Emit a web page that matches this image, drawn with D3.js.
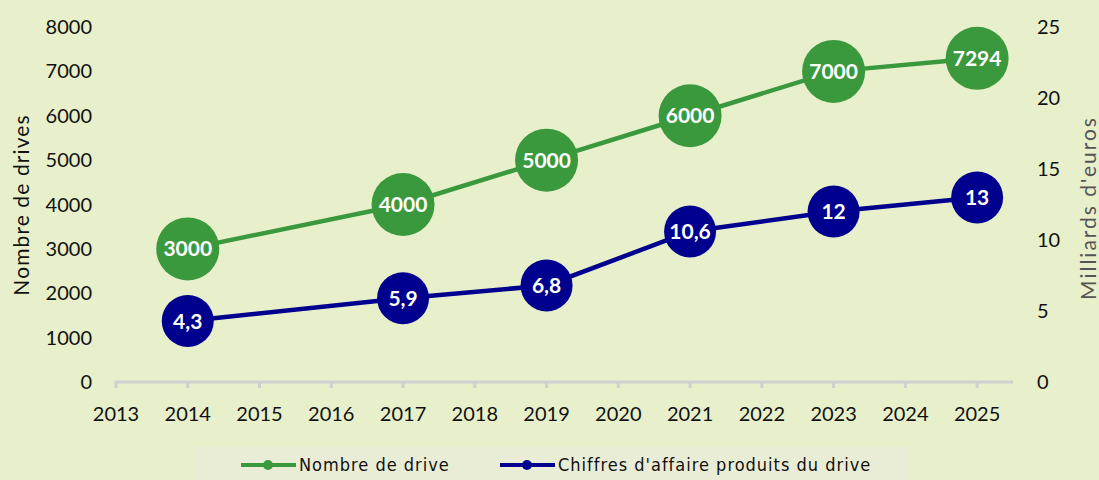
<!DOCTYPE html>
<html>
<head>
<meta charset="utf-8">
<script src="https://cdn.jsdelivr.net/npm/d3@7"></script>
<style>
  body { margin: 0; background: #e8efcb; }
  svg { display: block; }
</style>
</head>
<body>
<svg id="chart" width="1099" height="480"></svg>
<script>
// data
var years = [2014, 2017, 2019, 2021, 2023, 2025];
var drives = [3000, 4000, 5000, 6000, 7000, 7294];
var ca = [4.3, 5.9, 6.8, 10.6, 12, 13];
var caLabels = ["4,3", "5,9", "6,8", "10,6", "12", "13"];
var xTicks = d3.range(2013, 2026);
var leftTicks = [0, 1000, 2000, 3000, 4000, 5000, 6000, 7000, 8000];
var rightTicks = [0, 5, 10, 15, 20, 25];
var seriesNames = ["Nombre de drive", "Chiffres d'affaire produits du drive"];

var green = "#3a993d", navy = "#00008e";
var font = "Lato, 'Noto Sans', sans-serif";

var svg = d3.select("#chart");

var x = d3.scaleLinear().domain([2013, 2025.5]).range([116, 1013]);
var yL = d3.scaleLinear().domain([0, 8000]).range([382, 27]);
var yR = d3.scaleLinear().domain([0, 25]).range([382, 27]);

// x axis
var xAxis = svg.append("g").attr("transform", "translate(0,382)");
xAxis.append("line")
    .attr("x1", x.range()[0] - 1.5).attr("x2", x.range()[1])
    .attr("stroke", "#d0d0d0").attr("stroke-width", 3);
xAxis.selectAll(".tick").data(xTicks).enter().append("line")
    .attr("x1", function(d) { return x(d); }).attr("x2", function(d) { return x(d); })
    .attr("y1", 0).attr("y2", 6)
    .attr("stroke", "#d0d0d0").attr("stroke-width", 3);
xAxis.selectAll("text").data(xTicks).enter().append("text")
    .attr("x", function(d) { return x(d); })
    .attr("y", 39)
    .attr("text-anchor", "middle")
    .style("font-family", font).style("font-size", "20px").style("fill", "#111")
    .text(function(d) { return d; });

// left axis labels
svg.append("g").selectAll("text").data(leftTicks).enter().append("text")
    .attr("x", 92)
    .attr("y", function(d) { return yL(d); })
    .attr("dy", "0.35em")
    .attr("text-anchor", "end")
    .style("font-family", font).style("font-size", "20px").style("fill", "#111")
    .text(function(d) { return d; });

// right axis labels
svg.append("g").selectAll("text").data(rightTicks).enter().append("text")
    .attr("x", 1037)
    .attr("y", function(d) { return yR(d); })
    .attr("dy", "0.35em")
    .attr("text-anchor", "start")
    .style("font-family", font).style("font-size", "20px").style("fill", "#111")
    .text(function(d) { return d; });

// axis titles
svg.append("text")
    .attr("transform", "translate(29,205) rotate(-90)")
    .attr("text-anchor", "middle")
    .style("font-family", font).style("font-size", "21px").style("fill", "#111")
    .style("letter-spacing", "1.1px")
    .text("Nombre de drives");
svg.append("text")
    .attr("transform", "translate(1096,208) rotate(-90)")
    .attr("text-anchor", "middle")
    .style("font-family", font).style("font-size", "21px").style("fill", "#555")
    .style("letter-spacing", "2px")
    .text("Milliards d'euros");

// lines
var lineL = d3.line().x(function(d, i) { return x(years[i]); }).y(function(d) { return yL(d); });
var lineR = d3.line().x(function(d, i) { return x(years[i]); }).y(function(d) { return yR(d); });

svg.append("path").datum(drives).attr("d", lineL)
    .attr("fill", "none").attr("stroke", green).attr("stroke-width", 4.5);
svg.append("path").datum(ca).attr("d", lineR)
    .attr("fill", "none").attr("stroke", navy).attr("stroke-width", 4.5);

// green bubbles
var gNodes = svg.append("g").selectAll("g").data(drives).enter().append("g")
    .attr("transform", function(d, i) { return "translate(" + x(years[i]) + "," + yL(d) + ")"; });
gNodes.append("circle").attr("r", 31.5).attr("fill", green);
gNodes.append("text")
    .attr("dy", "0.36em").attr("text-anchor", "middle")
    .style("font-family", font).style("font-size", "21px").style("font-weight", "bold")
    .style("fill", "#fff")
    .text(function(d) { return d; });

// navy bubbles
var bNodes = svg.append("g").selectAll("g").data(ca).enter().append("g")
    .attr("transform", function(d, i) { return "translate(" + x(years[i]) + "," + yR(d) + ")"; });
bNodes.append("circle").attr("r", 26).attr("fill", navy);
bNodes.append("text")
    .attr("dy", "0.36em").attr("text-anchor", "middle")
    .style("font-family", font).style("font-size", "21px").style("font-weight", "bold")
    .style("fill", "#fff")
    .text(function(d, i) { return caLabels[i]; });

// legend
var legend = svg.append("g");
legend.append("rect")
    .attr("x", 194).attr("y", 447).attr("width", 715).attr("height", 33)
    .attr("fill", "#eaedd5");
var legItems = [
  {name: seriesNames[0], color: green, x: 241},
  {name: seriesNames[1], color: navy, x: 500}
];
var li = legend.selectAll(".li").data(legItems).enter().append("g")
    .attr("transform", function(d) { return "translate(" + d.x + ",465)"; });
li.append("line").attr("x1", 0).attr("x2", 55)
    .attr("stroke", function(d) { return d.color; }).attr("stroke-width", 4);
li.append("circle").attr("cx", 27).attr("r", 5)
    .attr("fill", function(d) { return d.color; });
li.append("text")
    .attr("x", 58).attr("dy", "0.35em")
    .style("font-family", "'Liberation Sans Narrow', 'DejaVu Sans Condensed', sans-serif")
    .style("font-size", "18px").style("letter-spacing", "1px").style("fill", "#111")
    .text(function(d) { return d.name; });
</script>
</body>
</html>
